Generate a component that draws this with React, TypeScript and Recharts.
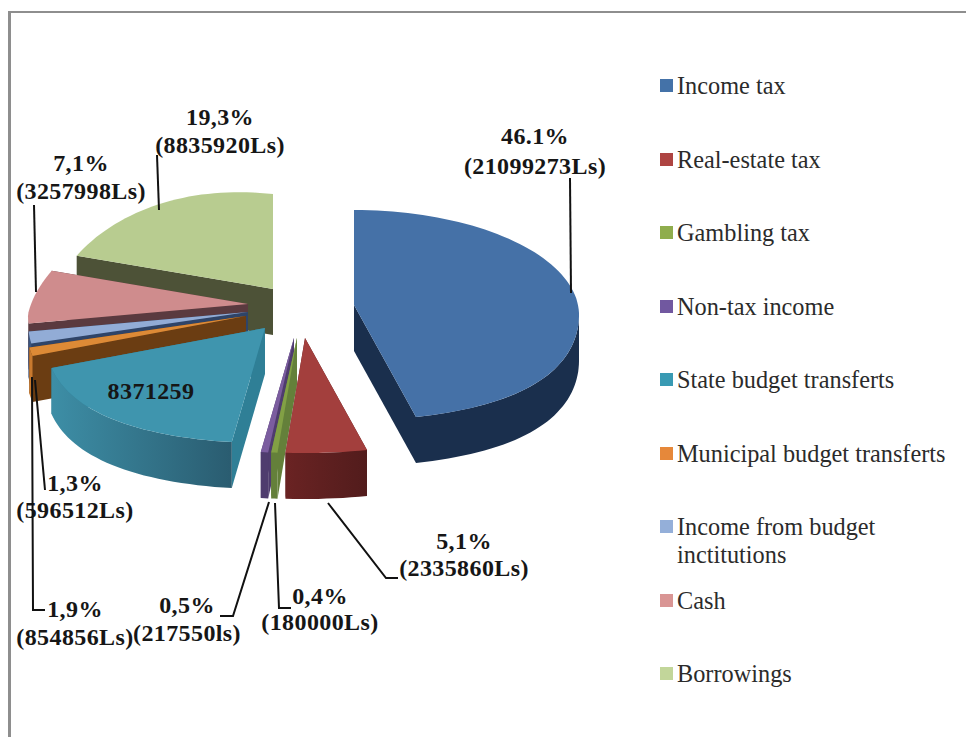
import { Legend, Pie, PieChart } from 'recharts';

const categories = [
  'Income tax',
  'Real-estate tax',
  'Gambling tax',
  'Non-tax income',
  'State budget transferts',
  'Municipal budget transferts',
  'Income from budget inctitutions',
  'Cash',
  'Borrowings',
];
const amounts = [21099273, 2335860, 180000, 217550, 8371259, 596512, 854856, 3257998, 8835920];
const percentLabels = ['46.1%', '5,1%', '0,4%', '0,5%', '', '1,3%', '1,9%', '7,1%', '19,3%'];
const amountLabels = [
  '(21099273Ls)',
  '(2335860Ls)',
  '(180000Ls)',
  '(217550ls)',
  '8371259',
  '(596512Ls)',
  '(854856Ls)',
  '(3257998Ls)',
  '(8835920Ls)',
];

const topColors = ['#4571a7', '#a33f3d', '#82a045', '#7b5d9f', '#3f95ae', '#dd8a36', '#92acd6', '#cf8c8d', '#b8cc90'];
const legendColors = ['#4472a8', '#ae4442', '#8fad4d', '#7158a0', '#399ab3', '#e6883a', '#94afd9', '#d99594', '#c2d69a'];
const wallColors = ['#1a2f4d', 'url(#wallRed)', '#64803a', '#4f3c6e', 'url(#wallTeal)', '#c97a2e', '#3b5680', '#5a3a3f', '#4d5237'];
const faceColors = ['#1a2f4d', '#5c1f1f', '#64803a', '#4f3c6e', '#2f7f96', '#6b3d12', '#2f4468', '#5a3a3f', '#4d5237'];

// how far each slice is pulled out of the pie, in px
const explodeX = [54, 5, -3, -6, -35, -54, -52, -52, -27];
const explodeY = [5, 38, 38, 38, 28, 16, 12, 4, -11];

const CX = 300;
const CY = 300;
const RX = 225;
const RX_LEFT = 220;
const RY = 105;
const SHIFT = 10;
const DEPTH = 46;

// label placement: x centre, baseline of first and second line, leader line
const labelLayout = [
  { x: 535, y1: 144, y2: 174, line: '570,178 571,293' },
  { x: 464, y1: 549, y2: 576, line: '328,503 386,578 398,578' },
  { x: 320, y1: 604, y2: 630, line: '275,503 279,608 291,608' },
  { x: 187, y1: 613, y2: 641, line: '269,502 233,616 220,616' },
  { x: 151, y1: 399, y2: 399, line: '' },
  { x: 75, y1: 491, y2: 518, line: '35,380 45,490' },
  { x: 75, y1: 617, y2: 645, line: '32,377 33,610 45,610' },
  { x: 81, y1: 171, y2: 199, line: '34,205 36,292' },
  { x: 220, y1: 125, y2: 153, line: '157,155 159,210' },
];

const tableData = categories.map((name, i) => ({
  name,
  value: amounts[i],
  fill: legendColors[i],
}));
// walls are painted back to front, so this pie runs the other way round
const wallData = [...tableData].reverse();

const rad = (d: number) => (d * Math.PI) / 180;

function point(ax: number, ay: number, theta: number, drop = 0) {
  const s = Math.sin(rad(theta));
  const c = Math.cos(rad(theta));
  // the picture has perspective: rim is pushed out at the front, pulled in at back left
  let x = ax + (s < 0 ? RX_LEFT : RX) * s;
  let y = ay + SHIFT - RY * c + drop;
  if (c < 0) x += 34 * s * c * c;
  if (c > 0 && s < 0) {
    x += 30 * c * Math.abs(s);
    y -= 20 * c * Math.abs(s);
  }
  return `${x.toFixed(1)},${y.toFixed(1)}`;
}

function arcPoints(ax: number, ay: number, from: number, to: number, drop = 0) {
  const pts: string[] = [];
  const n = Math.max(2, Math.ceil((to - from) / 2));
  for (let k = 0; k <= n; k++) pts.push(point(ax, ay, from + ((to - from) * k) / n, drop));
  return pts;
}

function sliceInfo(props: any) {
  const index = categories.indexOf(props.name);
  const t1 = 90 - props.startAngle;
  const t2 = 90 - props.endAngle;
  return {
    index,
    from: Math.min(t1, t2),
    to: Math.max(t1, t2),
    ax: props.cx + explodeX[index],
    ay: props.cy + explodeY[index],
  };
}

function WallShape(props: any) {
  const { index, from, to, ax, ay } = sliceInfo(props);
  const face = (theta: number) =>
    `${ax},${ay} ${point(ax, ay, theta)} ${point(ax, ay, theta, DEPTH)} ${ax},${ay + DEPTH}`;
  const a = Math.max(from, 90);
  const b = Math.min(to, 270);
  return (
    <g>
      <polygon points={face(to)} fill={faceColors[index]} />
      <polygon points={face(from)} fill={faceColors[index]} />
      {b > a && (
        <polygon
          points={[...arcPoints(ax, ay, a, b), ...arcPoints(ax, ay, a, b, DEPTH).reverse()].join(' ')}
          fill={wallColors[index]}
        />
      )}
    </g>
  );
}

function TopShape(props: any) {
  const { index, from, to, ax, ay } = sliceInfo(props);
  return <polygon points={[`${ax},${ay}`, ...arcPoints(ax, ay, from, to)].join(' ')} fill={topColors[index]} />;
}

function SliceLabel(props: any) {
  const index = categories.indexOf(props.name);
  const l = labelLayout[index];
  const textStyle = {
    fontFamily: '"Liberation Serif", serif',
    fontWeight: 700,
    fontSize: 24,
    letterSpacing: 0.4,
    fill: '#161616',
    textAnchor: 'middle' as const,
  };
  return (
    <g>
      {l.line && <polyline points={l.line} fill="none" stroke="#111" strokeWidth={2} />}
      {percentLabels[index] && (
        <text x={l.x} y={l.y1} style={textStyle}>
          {percentLabels[index]}
        </text>
      )}
      <text x={l.x} y={l.y2} style={textStyle}>
        {amountLabels[index]}
      </text>
    </g>
  );
}

function LegendList({ payload }: any) {
  const items = categories.map((name) => (payload || []).find((p: any) => p.value === name)).filter(Boolean);
  return (
    <div style={{ position: 'relative', fontFamily: '"Liberation Serif", serif', fontSize: 24.3, color: '#2b2b2b' }}>
      {items.map((item: any, i: number) => (
        <div key={item.value} style={{ position: 'absolute', left: 0, top: i * 73.5 - 14, width: 300, lineHeight: '28px' }}>
          <span
            style={{
              position: 'absolute',
              left: 0,
              top: 7,
              width: 13,
              height: 13,
              background: item.color,
            }}
          />
          <span style={{ display: 'block', marginLeft: 17 }}>
            {item.value === 'Income from budget inctitutions' ? (
              <>
                Income from budget
                <br />
                inctitutions
              </>
            ) : (
              item.value
            )}
          </span>
        </div>
      ))}
    </div>
  );
}

export default function App() {
  return (
    <div style={{ position: 'absolute', left: 0, top: 0, width: 966, height: 737, background: '#fff', overflow: 'hidden' }}>
      <div style={{ position: 'absolute', left: 8, top: 11, right: -4, bottom: -4, border: '3px solid #8e8e8e', borderWidth: '2px 0 0 3px' }} />
      <PieChart width={966} height={737} margin={{ top: 0, right: 0, bottom: 0, left: 0 }}>
        <defs>
          <linearGradient id="wallRed" x1="0" y1="0" x2="1" y2="0">
            <stop offset="0%" stopColor="#6a2323" />
            <stop offset="100%" stopColor="#521c1c" />
          </linearGradient>
          <linearGradient id="wallTeal" x1="0" y1="0" x2="1" y2="0">
            <stop offset="0%" stopColor="#3d8ea6" />
            <stop offset="100%" stopColor="#2a5c70" />
          </linearGradient>
        </defs>
        <Pie
          data={wallData}
          dataKey="value"
          nameKey="name"
          cx={CX}
          cy={CY}
          outerRadius={RX}
          startAngle={-270}
          endAngle={90}
          stroke="none"
          legendType="none"
          shape={WallShape}
          isAnimationActive={false}
        />
        <Pie
          data={tableData}
          dataKey="value"
          nameKey="name"
          cx={CX}
          cy={CY}
          outerRadius={RX}
          startAngle={90}
          endAngle={-270}
          stroke="none"
          shape={TopShape}
          label={SliceLabel}
          labelLine={false}
          isAnimationActive={false}
        />
        <Legend
          layout="vertical"
          content={LegendList}
          wrapperStyle={{ position: 'absolute', left: 660, top: 86, width: 300, height: 0, bottom: 'auto', right: 'auto' }}
        />
      </PieChart>
    </div>
  );
}
